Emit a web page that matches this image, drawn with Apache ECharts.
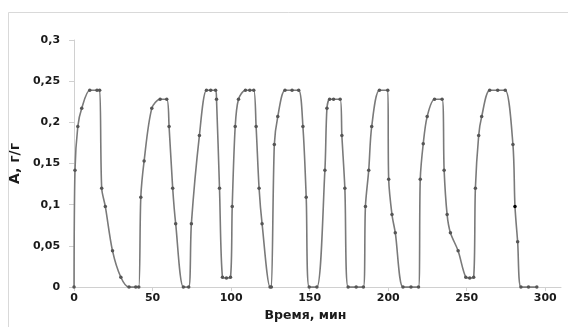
<!DOCTYPE html>
<html><head><meta charset="utf-8">
<script src="https://cdn.jsdelivr.net/npm/echarts@6/dist/echarts.min.js"></script>
<style>html,body{margin:0;padding:0;background:#fff}#c{width:568px;height:327px}</style>
</head><body><div id="c"></div>
<script>
const times = [0,0.6,2.4,4.9,10,14.6,16.3,17.6,19.9,24.5,29.8,35,39.3,41.2,42.5,44.6,49.5,54.8,59,60.5,62.8,64.7,69.6,73,74.7,79.8,84.3,87,90.1,90.7,92.6,94.5,97,99.6,100.7,102.6,104.7,109.1,111.9,114.4,115.9,117.8,119.7,124.8,125.6,127.5,129.7,134.3,138.8,143,145.7,147.8,149.7,154.6,159.7,161,162.7,165.2,169.4,170.5,172.4,174.5,179.6,184.2,185.5,187.6,189.5,194.4,199.7,200.3,202.4,204.5,209.4,214.5,219.3,220.4,222.3,224.8,229.5,234.3,235.6,237.5,239.6,244.5,249.4,251.9,254.4,255.5,257.6,259.5,264.6,269.7,274.5,279.4,280.7,282.4,284.5,289.3,294.6];
const values = [0,0.142,0.195,0.217,0.239,0.239,0.239,0.12,0.098,0.044,0.012,0,0,0,0.109,0.153,0.217,0.228,0.228,0.195,0.12,0.077,0,0,0.077,0.184,0.239,0.239,0.239,0.228,0.12,0.012,0.011,0.012,0.098,0.195,0.228,0.239,0.239,0.239,0.195,0.12,0.077,0,0,0.173,0.207,0.239,0.239,0.239,0.195,0.109,0,0,0.142,0.217,0.228,0.228,0.228,0.184,0.12,0,0,0,0.098,0.142,0.195,0.239,0.239,0.131,0.088,0.066,0,0,0,0.131,0.174,0.207,0.228,0.228,0.142,0.088,0.066,0.044,0.012,0.011,0.012,0.12,0.184,0.207,0.239,0.239,0.239,0.173,0.098,0.055,0,0,0];
const xTicks = [0,50,100,150,200,250,300];
const yTicks = [0,0.05,0.1,0.15,0.2,0.25,0.3];
const xTitle = 'Время, мин';
const yTitle = 'A, г/г';

const fmt = v => String(+v.toFixed(2)).replace('.', ',');
const data = times.map((t,i) => {
  const item = {value:[t, values[i]]};
  if (i === 94) item.itemStyle = {color:'#000'};
  return item;
});
const font = {fontFamily:'DejaVu Sans', fontWeight:'bold', fontSize:11, color:'#1a1a1a'};
const chart = echarts.init(document.getElementById('c'), null, {renderer:'canvas'});
chart.setOption({
  animation:false,
  backgroundColor:'#fff',
  graphic:[{type:'rect', shape:{x:8.5,y:12.5,width:700,height:500}, style:{fill:'none', stroke:'#d9d9d9', lineWidth:1}, silent:true, z:-1}],
  grid:{left:73, right:7, top:40, bottom:39},
  xAxis:{type:'value', min:0, max:310, interval:50,
    name:xTitle, nameLocation:'middle', nameGap:18, nameTextStyle:Object.assign({}, font, {fontSize:12.5, padding:[0,24,0,0]}),
    axisLine:{lineStyle:{color:'#d0d0d0', width:1}},
    axisTick:{show:true, length:4, lineStyle:{color:'#d0d0d0'}, customValues:xTicks},
    axisLabel:Object.assign({}, font, {margin:6, customValues:xTicks, formatter:v=>String(v)}),
    splitLine:{show:false}},
  yAxis:{type:'value', min:0, max:0.3, interval:0.05,
    name:yTitle, nameLocation:'middle', nameGap:43, nameRotate:90, nameTextStyle:Object.assign({}, font, {fontSize:14}),
    axisLine:{show:true, lineStyle:{color:'#d0d0d0', width:1}},
    axisTick:{show:true, length:5, lineStyle:{color:'#d0d0d0'}},
    axisLabel:Object.assign({}, font, {margin:14, formatter:v=>fmt(v)}),
    splitLine:{show:false}},
  series:[{type:'line', data:data, smooth:0.3,
    symbol:'circle', symbolSize:3.5, showSymbol:true,
    lineStyle:{color:'#7a7a7a', width:1.6},
    itemStyle:{color:'#555'}}]
});
</script></body></html>
